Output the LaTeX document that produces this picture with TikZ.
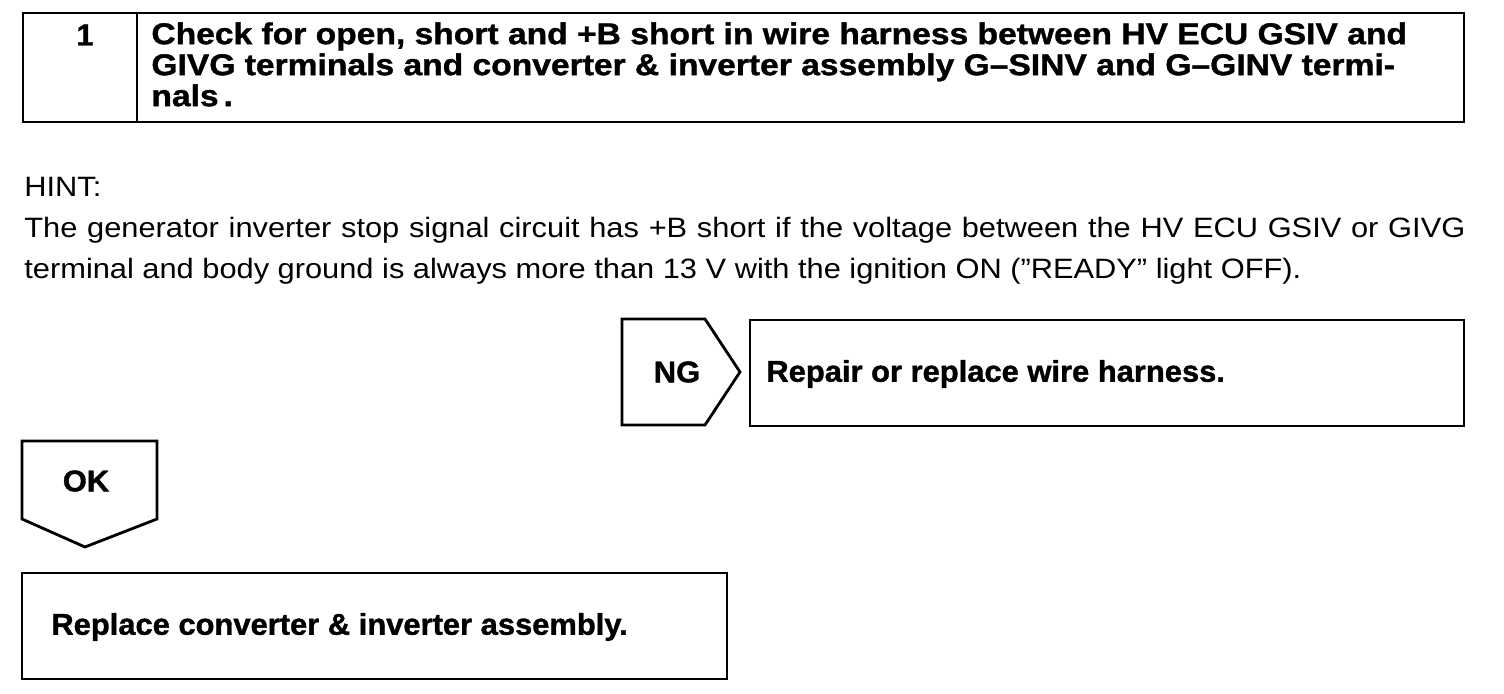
\documentclass[tikz,border=0pt]{standalone}
\usepackage{fontspec}
\setmainfont{Liberation Sans}[FakeStretch=1.1]
\newfontfamily\titlefont[FakeStretch=1.12, FakeBold=1.2]{Liberation Sans Bold}
\newfontfamily\headfont[FakeStretch=1.03, FakeBold=1.2]{Liberation Sans Bold}
\begin{document}
\begin{tikzpicture}[x=0.5pt, y=-0.5pt, line width=1.4pt,
    head/.style={font=\headfont\fontsize{15pt}{15pt}\selectfont, inner sep=0pt},
    hint/.style={font=\fontsize{14pt}{20.5pt}\selectfont, inner sep=0pt, anchor=north west}]
    \useasboundingbox (0,0) rectangle (1504,694);
    % step box
    \draw (23,13) rectangle (1464,122);
    \draw (137,13) -- (137,122);
    \node[head] (num) at (85,35) {1};
    \node[head, font=\titlefont\fontsize{15pt}{15.5pt}\selectfont, anchor=north west, align=left] (title) at (150,21)
        {Check for open, short and +B short in wire harness between HV ECU GSIV and\\
         GIVG terminals and converter \& inverter assembly G–SINV and G–GINV termi-\\
         nals\,.};
    % hint
    \node[hint] (hinthead) at (23,176) {HINT:};
    \node[hint, text width=720.5pt, align=justify] (hinttext) at (23,216)
        {The generator inverter stop signal circuit has +B short if the voltage between the HV ECU GSIV or GIVG\linebreak
         terminal and body ground is always more than 13 V with the ignition ON (”READY” light OFF).};
    % NG branch
    \draw (622,319) -- (705,319) -- (740,372) -- (705,425) -- (622,425) -- cycle;
    \node[head] (ng) at (677,372) {NG};
    \draw (750,320) rectangle (1464,426);
    \node[head, anchor=west] (repair) at (765,374) {Repair or replace wire harness.};
    % OK branch
    \draw (22,441) -- (157,441) -- (157,519) -- (85,547) -- (22,519) -- cycle;
    \node[head] (ok) at (86,481) {OK};
    \draw (22,573) rectangle (727,679);
    \node[head, anchor=west] (replace) at (50,627) {Replace converter \& inverter assembly.};
\end{tikzpicture}
\end{document}
